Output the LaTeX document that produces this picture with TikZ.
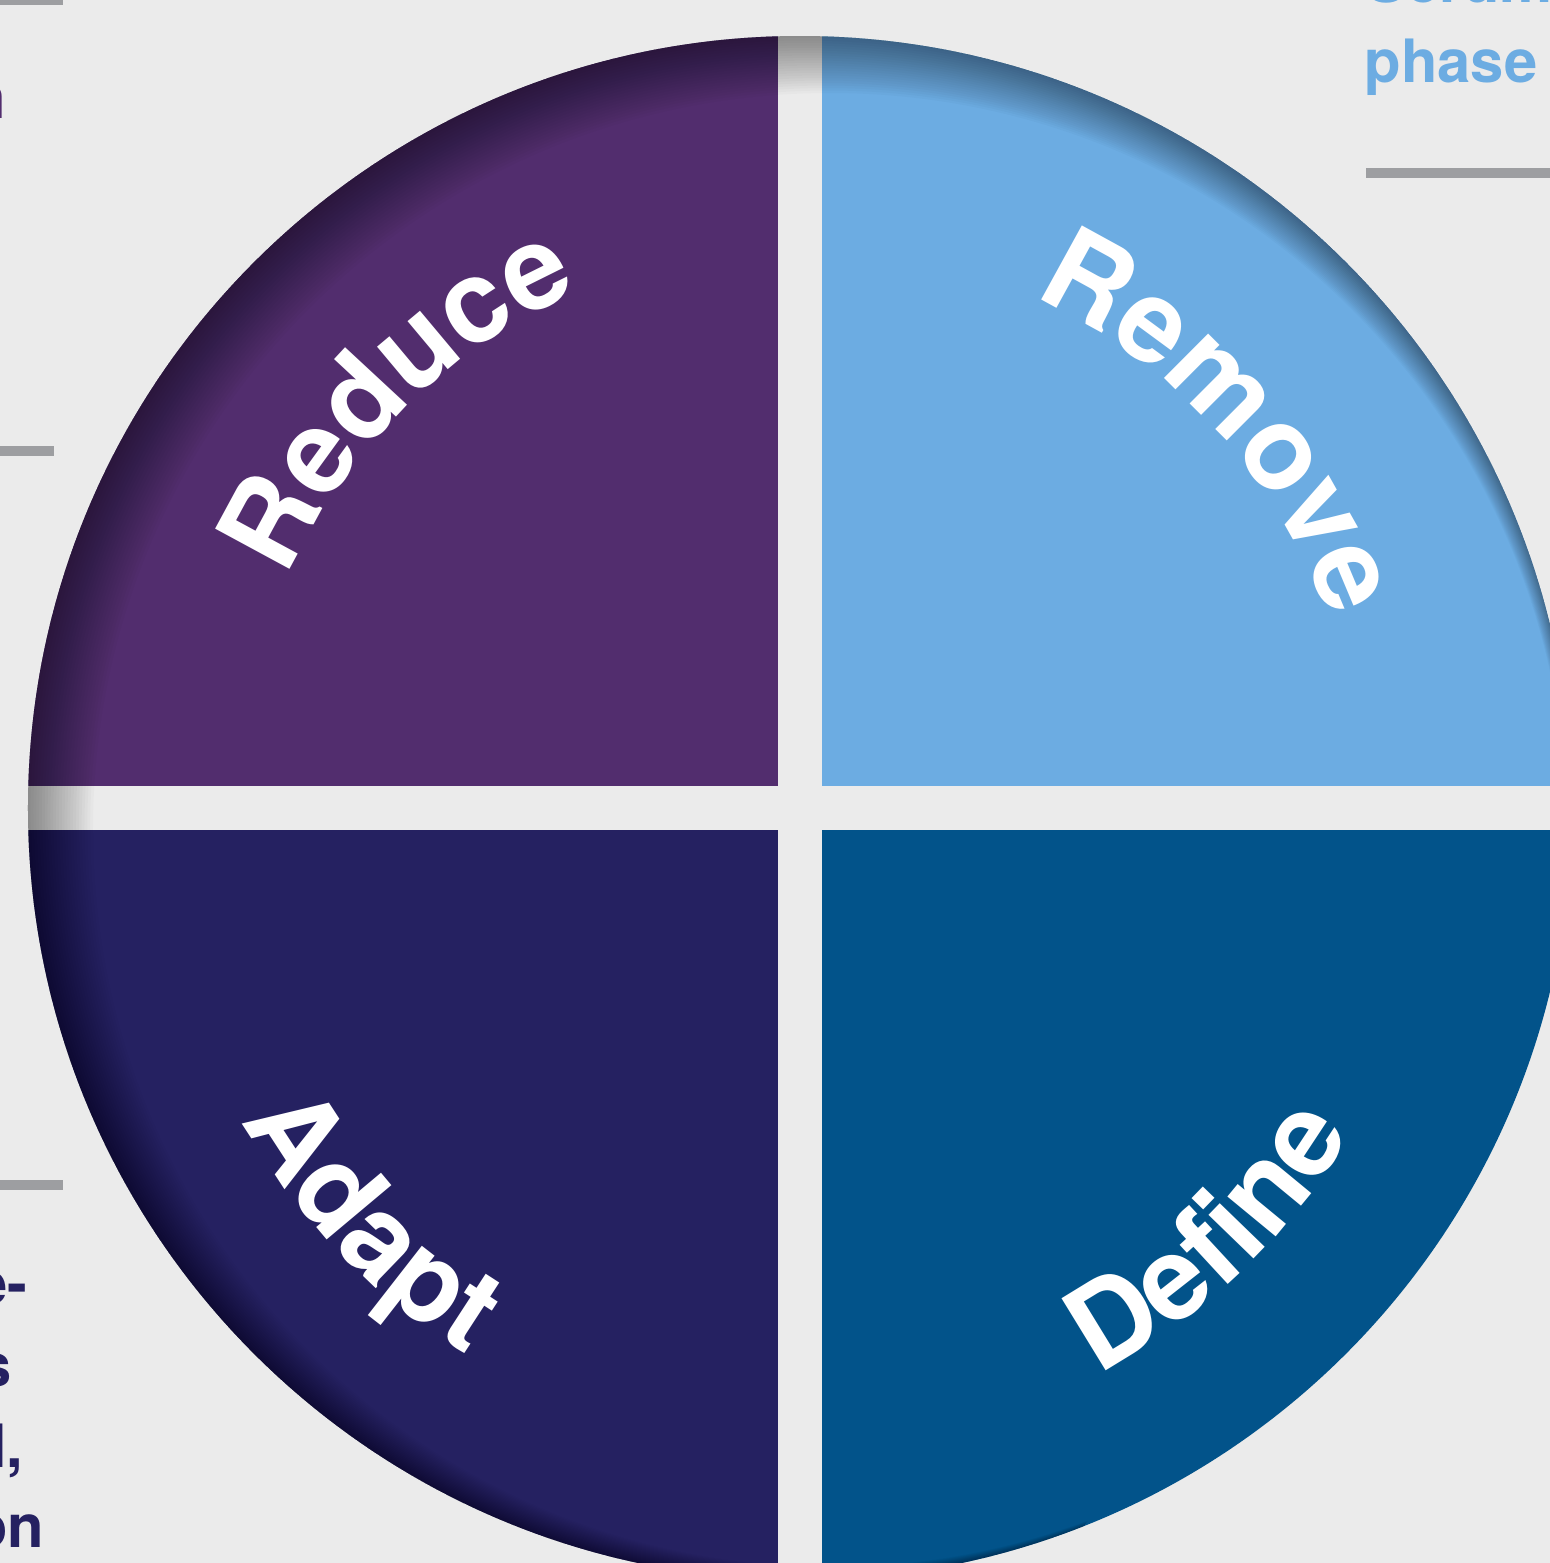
\documentclass[tikz,border=0pt]{standalone}
\usepackage{fontspec}
\newfontfamily\heros{TeX Gyre Heros}
\usetikzlibrary{decorations.text}
\definecolor{paper}{RGB}{235, 235, 235}
\definecolor{rulegrey}{RGB}{157, 158, 161}
\definecolor{reducepurple}{RGB}{82, 45, 110}
\definecolor{removeblue}{RGB}{108, 172, 226}
\definecolor{adaptnavy}{RGB}{37, 33, 97}
\definecolor{defineblue}{RGB}{2, 83, 138}
\newcommand{\arcfont}{\heros\bfseries\fontsize{33}{36}\selectfont}

\begin{document}
\begin{tikzpicture}[
    arctext/.style={decorate, decoration={text along path, text align=center,
        text color=white, text={|\arcfont|#1}}},
    sidetext/.style={font=\heros\bfseries\fontsize{17}{20}\selectfont, inner sep=0pt},
    rulebar/.style={fill=rulegrey}]
  \fill[paper] (-8,-7.55) rectangle (7.5,8.08);
  \useasboundingbox (-8,-7.55) rectangle (7.5,8.08);

  % grey rules on both sides
  \fill[rulebar] (-8.05,8.13) rectangle (-7.37,8.03);
  \fill[rulebar] (-8.05,3.62) rectangle (-7.46,3.52);
  \fill[rulebar] (-8.05,-3.72) rectangle (-7.37,-3.82);
  \fill[rulebar] (5.66,6.40) rectangle (7.55,6.30);

  % the four quarters, cut by a cross
  \begin{scope}
    \clip (0,0) circle (7.72);
    \fill[reducepurple] (-8,0.22) rectangle (-0.22,8);
    \fill[removeblue]   (0.22,0.22) rectangle (8,8);
    \fill[adaptnavy]    (-8,-0.22) rectangle (-0.22,-8);
    \fill[defineblue]   (0.22,-0.22) rectangle (8,-8);
    % inner shadow along the upper left rim only
    \clip (-9,-9) -- (-9,9) -- (9,9) -- (9,1.2) -- (1.5,-9) -- cycle;
    \foreach \k in {1,...,24}{
      \pgfmathsetmacro{\sx}{0.30*\k/24}
      \pgfmathsetmacro{\sy}{-0.22*\k/24}
      \pgfmathsetmacro{\rr}{7.75-0.38*\k/24}
      \fill[black, opacity=0.02, even odd rule]
        (-9,-9) rectangle (9,9) (\sx,\sy) circle (\rr);
    }
  \end{scope}

  % words along the rim
  \path[arctext={Reduce}] (164.5:5.62) arc[start angle=164.5, end angle=104.5, radius=5.62];
  \path[arctext={Remove}] (72.5:5.62) arc[start angle=72.5, end angle=12.5, radius=5.62];
  \path[arctext={Adapt}]  (194:6.40) arc[start angle=194, end angle=254, radius=6.40];
  \path[arctext={Define}] (283.6:6.40) arc[start angle=283.6, end angle=343.6, radius=6.40];

  % text running in from the sides
  \node[sidetext, text=removeblue, anchor=base west] (scrum) at (5.66,8.06) {Scrum};
  \node[sidetext, text=removeblue, anchor=base west] (phase) at (5.64,7.26) {phase};
  \node[sidetext, text=reducepurple, anchor=base east] (frag-n) at (-7.93,6.90) {n};
  \node[sidetext, text=adaptnavy, anchor=base east] (frag-e) at (-7.72,-4.96) {e-};
  \node[sidetext, text=adaptnavy, anchor=base east] (frag-s) at (-7.88,-5.78) {s};
  \node[sidetext, text=adaptnavy, anchor=base east] (frag-l) at (-7.76,-6.59) {l,};
  \node[sidetext, text=adaptnavy, anchor=base east] (frag-on) at (-7.55,-7.39) {on};
\end{tikzpicture}
\end{document}
